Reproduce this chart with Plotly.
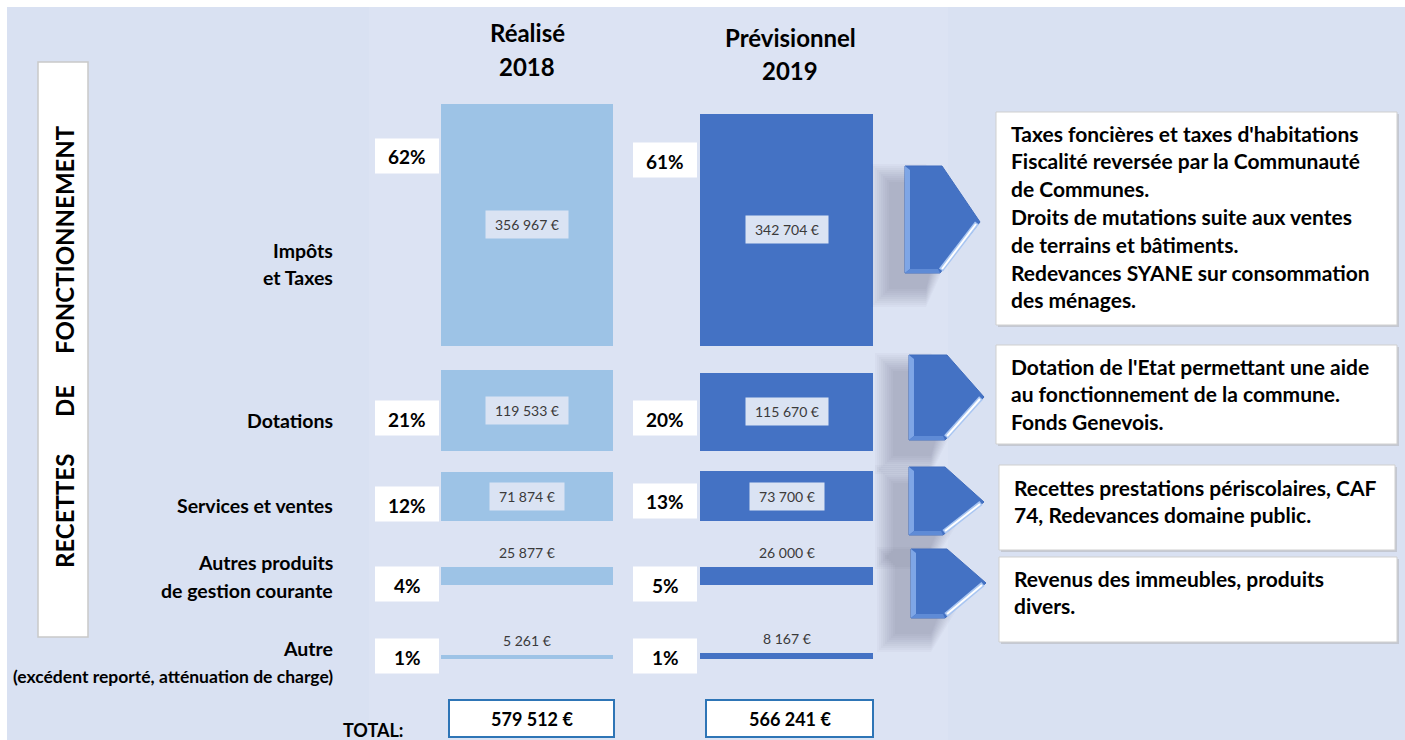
import plotly.graph_objects as go

# ---------------- DATA ----------------
categories = ["Impôts et Taxes", "Dotations", "Services et ventes",
              "Autres produits de gestion courante", "Autre"]
category_lines = [["Impôts", "et Taxes"],
                  ["Dotations"],
                  ["Services et ventes"],
                  ["Autres produits", "de gestion courante"],
                  ["Autre", "(excédent reporté, atténuation de charge)"]]
realise_2018 = [356967, 119533, 71874, 25877, 5261]
previsionnel_2019 = [342704, 115670, 73700, 26000, 8167]
column_titles = [["Réalisé", "2018"], ["Prévisionnel", "2019"]]
side_title = ["RECETTES", "DE", "FONCTIONNEMENT"]
total_label = "TOTAL:"
descriptions = [
    ["Taxes foncières et taxes d'habitations",
     "Fiscalité reversée par la Communauté",
     "de Communes.",
     "Droits de mutations suite aux ventes",
     "de terrains et bâtiments.",
     "Redevances SYANE sur consommation",
     "des ménages."],
    ["Dotation de l'Etat permettant une aide",
     "au fonctionnement de la commune.",
     "Fonds Genevois."],
    ["Recettes prestations périscolaires, CAF",
     "74, Redevances domaine public."],
    ["Revenus des immeubles, produits",
     "divers."],
]

# ---------------- LAYOUT / STYLE ----------------
W, H = 1405, 740
FONT = "Lato, 'Liberation Sans', Arial, sans-serif"
BG = "#D9E1F2"
PX_PER_EUR = 0.000678
row_base_px = [346, 451, 521, 585, 659]
col_center = [527, 786.5]
col_width = [172, 173]
col_color = ["#9DC3E6", "#4472C4"]
title_y = [[32, 67], [37, 70]]
title_x = [527, 790]
pct_box_x = [(375, 439), (633, 697)]
pct_center_y = [[156, 418, 504, 584, 656], [160, 418, 501, 584, 656]]
pct_h = 35
label_right = 335
label_y = [[250, 278], [420], [505], [562, 590], [648, 676]]
desc_boxes = [(996, 112, 1397, 325), (996, 345, 1397, 444),
              (999, 465, 1395, 550), (999, 557, 1397, 642)]
desc_first_y = [133, 366, 487, 578]
desc_spacing = 27.8
arrows = [(905, 942, 980, 166, 222, 273),
          (909, 947, 984, 355, 397, 440),
          (909, 945, 984, 467, 502, 535),
          (911, 947, 986, 549, 583, 618)]
total_boxes = [(449, 614), (706, 873)]
total_y = (700, 737)


def px(x):
    return x / W


def py(y):
    return 1 - y / H


def eur_y(p):
    return (H - p) / PX_PER_EUR


def fmt(v):
    return f"{v:,}".replace(",", " ") + " €"


def path(points):
    return "M " + " L ".join(f"{px(x):.5f},{py(y):.5f}" for x, y in points) + " Z"


series = [realise_2018, previsionnel_2019]
fig = go.Figure()

for k, vals in enumerate(series):
    fig.add_trace(go.Bar(
        x=[col_center[k]] * len(vals),
        y=vals,
        base=[eur_y(b) for b in row_base_px],
        width=col_width[k],
        marker=dict(color=col_color[k], line=dict(width=0)),
        hoverinfo="skip",
        showlegend=False,
    ))

shapes = []
annotations = []

# background with thin white top/left border, lighter central panel
shapes.append(dict(type="rect", xref="paper", yref="paper", x0=px(7), x1=1, y0=0, y1=py(7),
                   fillcolor=BG, line=dict(width=0), layer="below"))
shapes.append(dict(type="rect", xref="paper", yref="paper", x0=px(369), x1=px(948), y0=0, y1=py(7),
                   fillcolor="#DCE3F3", line=dict(width=0), layer="below"))

# side title box
shapes.append(dict(type="rect", xref="paper", yref="paper", x0=px(38), x1=px(88), y0=py(637), y1=py(62),
                   fillcolor="white", line=dict(color="#C9C9C9", width=1.5)))
side_y = [511, 401, 240]
for word, yy in zip(side_title, side_y):
    annotations.append(dict(xref="paper", yref="paper", x=px(64), y=py(yy), text=f"<b>{word}</b>",
                            textangle=-90, showarrow=False, xanchor="center", yanchor="middle",
                            font=dict(family=FONT, size=24, color="black")))

# column titles
for k in range(2):
    for t, yy in zip(column_titles[k], title_y[k]):
        annotations.append(dict(xref="paper", yref="paper", x=px(title_x[k]), y=py(yy),
                                text=f"<b>{t}</b>", showarrow=False, xanchor="center", yanchor="middle",
                                font=dict(family=FONT, size=24, color="black")))

# category labels
for lines, ys in zip(category_lines, label_y):
    for t, yy in zip(lines, ys):
        size = 17.5 if t.startswith("(") else 19.5
        annotations.append(dict(xref="paper", yref="paper", x=px(label_right), y=py(yy),
                                text=f"<b>{t}</b>", showarrow=False, xanchor="right", yanchor="middle",
                                font=dict(family=FONT, size=size, color="black")))

# percent boxes and value labels
for k, vals in enumerate(series):
    tot = sum(vals)
    for i, v in enumerate(vals):
        cy = pct_center_y[k][i]
        x0, x1 = pct_box_x[k]
        shapes.append(dict(type="rect", xref="paper", yref="paper", x0=px(x0), x1=px(x1),
                           y0=py(cy + pct_h / 2), y1=py(cy - pct_h / 2),
                           fillcolor="white", line=dict(width=0)))
        annotations.append(dict(xref="paper", yref="paper", x=px((x0 + x1) / 2), y=py(cy + 1),
                                text=f"<b>{round(100 * v / tot)}%</b>", showarrow=False,
                                xanchor="center", yanchor="middle",
                                font=dict(family=FONT, size=19, color="black")))
        base = eur_y(row_base_px[i])
        txt = fmt(v)
        if v * PX_PER_EUR > 40:
            annotations.append(dict(xref="x", yref="y", x=col_center[k], y=base + v / 2,
                                    text=txt, showarrow=False, xanchor="center", yanchor="middle",
                                    bgcolor="#DAE3F3", borderpad=5, width=8 * len(txt), height=17,
                                    font=dict(family=FONT, size=14, color="#3A3A3A")))
        else:
            annotations.append(dict(xref="x", yref="y", x=col_center[k], y=base + v,
                                    text=txt, showarrow=False, xanchor="center", yanchor="bottom",
                                    yshift=4,
                                    font=dict(family=FONT, size=14, color="#3A3A3A")))

# totals
annotations.append(dict(xref="paper", yref="paper", x=px(373), y=py(730), text=f"<b>{total_label}</b>",
                        showarrow=False, xanchor="center", yanchor="middle",
                        font=dict(family=FONT, size=18, color="black")))
for k, vals in enumerate(series):
    x0, x1 = total_boxes[k]
    shapes.append(dict(type="rect", xref="paper", yref="paper", x0=px(x0), x1=px(x1),
                       y0=py(total_y[1]), y1=py(total_y[0]),
                       fillcolor="white", line=dict(color="#2E75B6", width=2)))
    annotations.append(dict(xref="paper", yref="paper", x=px((x0 + x1) / 2), y=py(719),
                            text=f"<b>{fmt(sum(vals))}</b>", showarrow=False,
                            xanchor="center", yanchor="middle",
                            font=dict(family=FONT, size=18, color="black")))

# arrows with soft shadow and bevel
for (x0, xr, xp, y0, yp, y1) in arrows:
    dx, dy = -16, 16
    for j in range(10):
        g = 18 - j * 2
        pts = [(x0 + dx - g, y0 + dy - g), (xr + dx, y0 + dy - g), (xp + dx - 25 + g, yp + dy),
               (xr + dx, y1 + dy + g), (x0 + dx - g, y1 + dy + g)]
        shapes.append(dict(type="path", xref="paper", yref="paper", path=path(pts),
                           fillcolor="rgba(70,75,95,0.032)", line=dict(width=0)))
    body = [(x0, y0), (xr, y0), (xp, yp), (xr - 2, y1), (x0, y1)]
    shapes.append(dict(type="path", xref="paper", yref="paper", path=path(body),
                       fillcolor="#4472C4", line=dict(color="#3F6CBD", width=1)))
    left = [(x0, y0), (x0 + 5, y0 + 4), (x0 + 5, y1 - 4), (x0, y1)]
    shapes.append(dict(type="path", xref="paper", yref="paper", path=path(left),
                       fillcolor="#7FA6E6", line=dict(width=0)))
    bottom = [(x0, y1), (x0 + 5, y1 - 4), (xr - 4, y1 - 4), (xr - 2, y1)]
    shapes.append(dict(type="path", xref="paper", yref="paper", path=path(bottom),
                       fillcolor="#5F8BD6", line=dict(width=0)))
    shapes.append(dict(type="line", xref="paper", yref="paper", x0=px(xp - 3), y0=py(yp + 1),
                       x1=px(xr - 1), y1=py(y1 - 3), line=dict(color="#A9C6F2", width=5)))
    shapes.append(dict(type="line", xref="paper", yref="paper", x0=px(xp - 4), y0=py(yp + 2),
                       x1=px(xr), y1=py(y1 - 4), line=dict(color="white", width=2)))

# description boxes
for (bx0, by0, bx1, by1), lines, fy in zip(desc_boxes, descriptions, desc_first_y):
    shapes.append(dict(type="rect", xref="paper", yref="paper", x0=px(bx0 + 2), x1=px(bx1 + 2),
                       y0=py(by1 + 2), y1=py(by0 + 2), fillcolor="#C4C8D2", line=dict(width=0)))
    shapes.append(dict(type="rect", xref="paper", yref="paper", x0=px(bx0), x1=px(bx1),
                       y0=py(by1), y1=py(by0), fillcolor="white", line=dict(color="#CFCFCF", width=1)))
    for j, t in enumerate(lines):
        annotations.append(dict(xref="paper", yref="paper", x=px(bx0 + 13), y=py(fy + j * desc_spacing),
                                text=f"<b>{t}</b>", showarrow=False, xanchor="left", yanchor="middle",
                                font=dict(family=FONT, size=21, color="black")))

fig.update_layout(
    width=W, height=H,
    margin=dict(l=0, r=0, t=0, b=0),
    paper_bgcolor="white", plot_bgcolor="rgba(0,0,0,0)",
    barmode="overlay", bargap=0,
    showlegend=False,
    xaxis=dict(range=[0, W], visible=False, fixedrange=True),
    yaxis=dict(range=[0, H / PX_PER_EUR], visible=False, fixedrange=True),
    shapes=shapes,
    annotations=annotations,
)

fig.write_html("out.html",
               config={"displayModeBar": False},
               post_script="document.body.style.margin='0';document.body.style.overflow='hidden';")
